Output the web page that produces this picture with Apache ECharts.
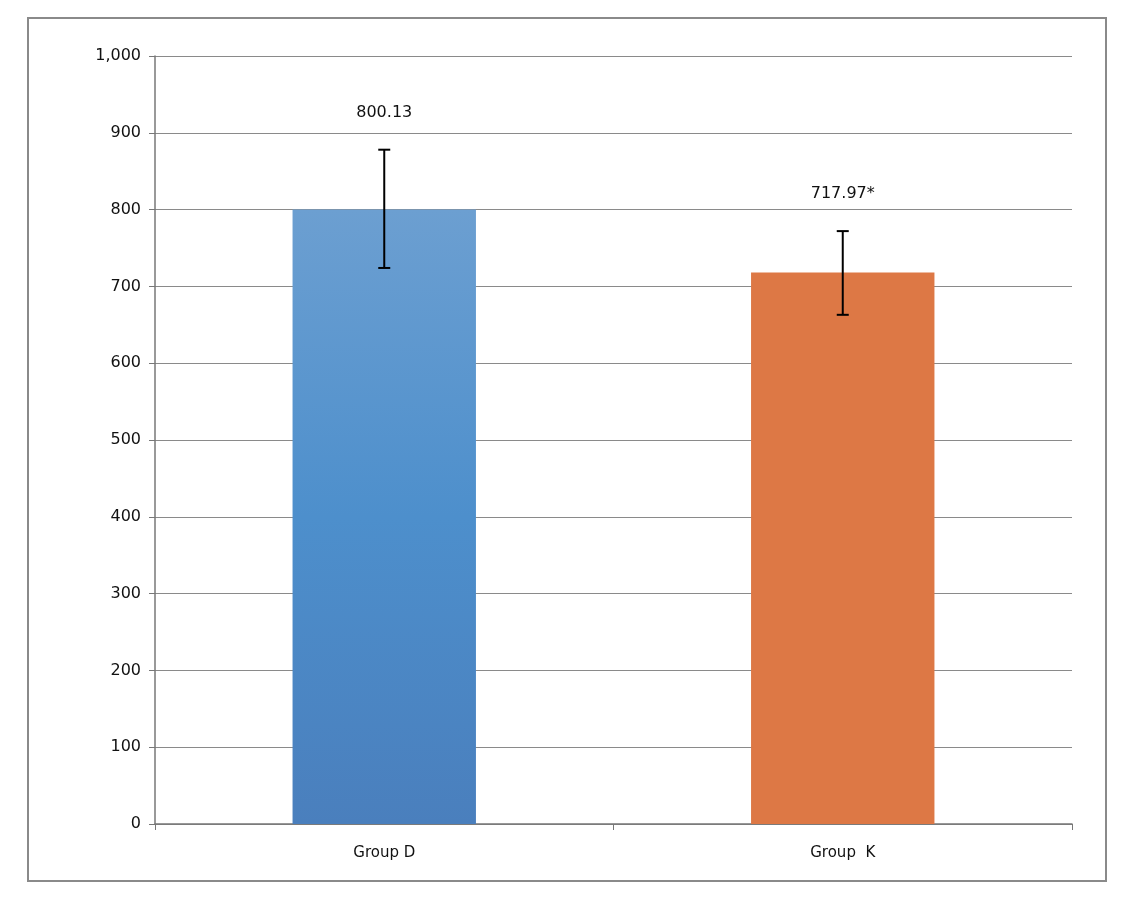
<!DOCTYPE html>
<html><head><meta charset="utf-8">
<script src="https://cdn.jsdelivr.net/npm/echarts@6/dist/echarts.min.js"></script>
<style>html,body{margin:0;padding:0;background:#fff}#c{width:1134px;height:904px}
#frame{position:absolute;left:27px;top:17px;width:1080px;height:865px;border:2px solid #8a8a8a;box-sizing:border-box;pointer-events:none}</style>
</head><body><div id="c"></div><div id="frame"></div>
<script>
const categories = ['Group D', 'Group  K'];
const means = [800.13, 717.97];
const errLow = [724, 663];
const errHigh = [878, 772];
const labels = ['800.13', '717.97*'];
const yTicks = [0, 100, 200, 300, 400, 500, 600, 700, 800, 900, 1000];

const chart = echarts.init(document.getElementById('c'));
const font = 'DejaVu Sans';
chart.setOption({
  animation: false,
  grid: {left: 155, right: 62, top: 56, bottom: 80},
  xAxis: {type: 'category', data: categories,
    axisLine: {lineStyle: {color: '#777', width: 1.5}},
    axisTick: {show: true, length: 6, lineStyle: {color: '#777'}},
    axisLabel: {color: '#111', fontFamily: font, fontSize: 15, margin: 22}},
  yAxis: {type: 'value', min: 0, max: 1000, interval: 100,
    axisLine: {show: true, lineStyle: {color: '#777', width: 1.5}},
    axisTick: {show: true, length: 6, lineStyle: {color: '#777'}},
    splitLine: {lineStyle: {color: '#8a8a8a', width: 1.2}},
    axisLabel: {color: '#111', fontFamily: font, fontSize: 16, margin: 14}},
  series: [
    {type: 'bar', barWidth: '40%',
     data: means.map((v, i) => ({value: v, itemStyle: {color: i === 0 ?
       new echarts.graphic.LinearGradient(0, 0, 0, 1, [{offset: 0, color: '#6c9fd1'}, {offset: 0.5, color: '#4d8fcc'}, {offset: 1, color: '#4a7fbd'}]) :
       '#dd7845'}}))},
    {type: 'custom', z: 10,
     data: means.map((v, i) => [i, errLow[i], errHigh[i]]),
     renderItem: function (params, api) {
       const x = api.value(0);
       const lo = api.coord([x, api.value(1)]);
       const hi = api.coord([x, api.value(2)]);
       const w = 6;
       const st = {stroke: '#000', lineWidth: 2};
       return {type: 'group', children: [
         {type: 'line', shape: {x1: lo[0], y1: lo[1], x2: hi[0], y2: hi[1]}, style: st},
         {type: 'line', shape: {x1: lo[0] - w, y1: lo[1], x2: lo[0] + w, y2: lo[1]}, style: st},
         {type: 'line', shape: {x1: hi[0] - w, y1: hi[1], x2: hi[0] + w, y2: hi[1]}, style: st},
         {type: 'text', style: {text: labels[params.dataIndex], x: hi[0], y: hi[1] - 37,
           textAlign: 'center', textVerticalAlign: 'middle', fill: '#111', font: '16px "DejaVu Sans"'}}
       ]};
     }}
  ]
});
</script></body></html>
